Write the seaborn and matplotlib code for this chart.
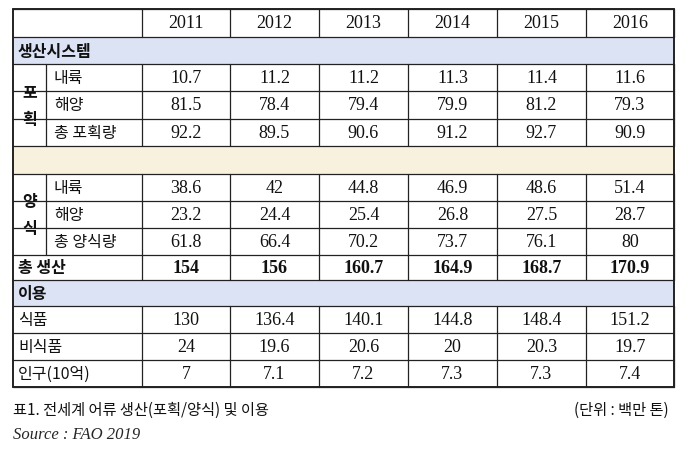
import matplotlib
matplotlib.use("Agg")
import matplotlib.pyplot as plt
import seaborn as sns
from matplotlib.patches import Rectangle

sns.set_theme(style="white")

years = ["2011", "2012", "2013", "2014", "2015", "2016"]
capture_inland = ["10.7", "11.2", "11.2", "11.3", "11.4", "11.6"]
capture_marine = ["81.5", "78.4", "79.4", "79.9", "81.2", "79.3"]
capture_total = ["92.2", "89.5", "90.6", "91.2", "92.7", "90.9"]
aqua_inland = ["38.6", "42", "44.8", "46.9", "48.6", "51.4"]
aqua_marine = ["23.2", "24.4", "25.4", "26.8", "27.5", "28.7"]
aqua_total = ["61.8", "66.4", "70.2", "73.7", "76.1", "80"]
total_prod = ["154", "156", "160.7", "164.9", "168.7", "170.9"]
food = ["130", "136.4", "140.1", "144.8", "148.4", "151.2"]
nonfood = ["24", "19.6", "20.6", "20", "20.3", "19.7"]
population = ["7", "7.1", "7.2", "7.3", "7.3", "7.4"]

KR = ["Noto Sans CJK KR", "Noto Sans CJK JP", "Noto Sans CJK SC", "Noto Sans CJK TC"]
NUM = "Liberation Serif"

fig = plt.figure(figsize=(6.85, 4.56), dpi=100)
ax = fig.add_axes([0, 0, 1, 1])
ax.set_xlim(0, 685)
ax.set_ylim(456, 0)
ax.axis("off")

L, G, LB, R = 13, 46, 142, 674
colx = [142, 230, 319, 408, 497, 586, 674]
rows = [10, 38, 65, 92, 120, 147, 175, 202, 229, 256, 281, 307, 334, 361, 388]
lw = 0.9
c = "#222222"

def hline(y, x0=L, x1=R, w=lw):
    ax.plot([x0, x1], [y, y], color=c, lw=w)

def vline(x, y0, y1, w=lw):
    ax.plot([x, x], [y0, y1], color=c, lw=w)

for (y0, y1, col) in [(38, 65, "#DCE3F5"), (147, 175, "#F8F1DD"), (281, 307, "#DCE3F5")]:
    ax.add_patch(Rectangle((L, y0), R - L, y1 - y0, color=col, lw=0))

for y in rows:
    hline(y)
vline(L, 10, 388, 1.4); vline(R, 10, 388, 1.4)
hline(10, w=1.4); hline(388, w=1.4)
for x in colx:
    for (y0, y1) in [(10, 38), (65, 147), (175, 281), (307, 388)]:
        vline(x, y0, y1)
for (y0, y1) in [(65, 147), (175, 256)]:
    vline(G, y0, y1)

def cy(i):
    return (rows[i] + rows[i + 1]) / 2

def nums(i, vals, bold=False):
    for k, v in enumerate(vals):
        ax.text((colx[k] + colx[k + 1]) / 2, cy(i), v, ha="center", va="center",
                fontsize=13, family=NUM, fontweight="bold" if bold else "normal", color="#111")

def kr(x, y, s, bold=False, ha="left", size=11.5):
    ax.text(x, y, s, ha=ha, va="center", fontsize=size, family=KR,
            fontweight="bold" if bold else "normal", color="#111")

nums(0, years)
kr(L + 5, cy(1), "생산시스템", bold=True)
for i, lab, vals in [(2, "내륙", capture_inland), (3, "해양", capture_marine), (4, "총 포획량", capture_total),
                     (6, "내륙", aqua_inland), (7, "해양", aqua_marine), (8, "총 양식량", aqua_total)]:
    kr(G + 8, cy(i), lab)
    nums(i, vals)
kr((L + G) / 2, 92, "포", bold=True, ha="center")
kr((L + G) / 2, 120, "획", bold=True, ha="center")
kr((L + G) / 2, 202, "양", bold=True, ha="center")
kr((L + G) / 2, 229, "식", bold=True, ha="center")
kr(L + 5, cy(9), "총 생산", bold=True)
nums(9, total_prod, bold=True)
kr(L + 5, cy(10), "이용", bold=True)
for i, lab, vals in [(11, "식품", food), (12, "비식품", nonfood), (13, "인구(10억)", population)]:
    kr(L + 5, cy(i), lab)
    nums(i, vals)

kr(L, 410, "표1. 전세계 어류 생산(포획/양식) 및 이용", size=11)
kr(R - 5, 410, "(단위 : 백만 톤)", ha="right", size=11)
ax.text(L, 435, "Source : FAO 2019", ha="left", va="center", fontsize=12, family=NUM, style="italic")

fig.savefig("out.png", dpi=100)
